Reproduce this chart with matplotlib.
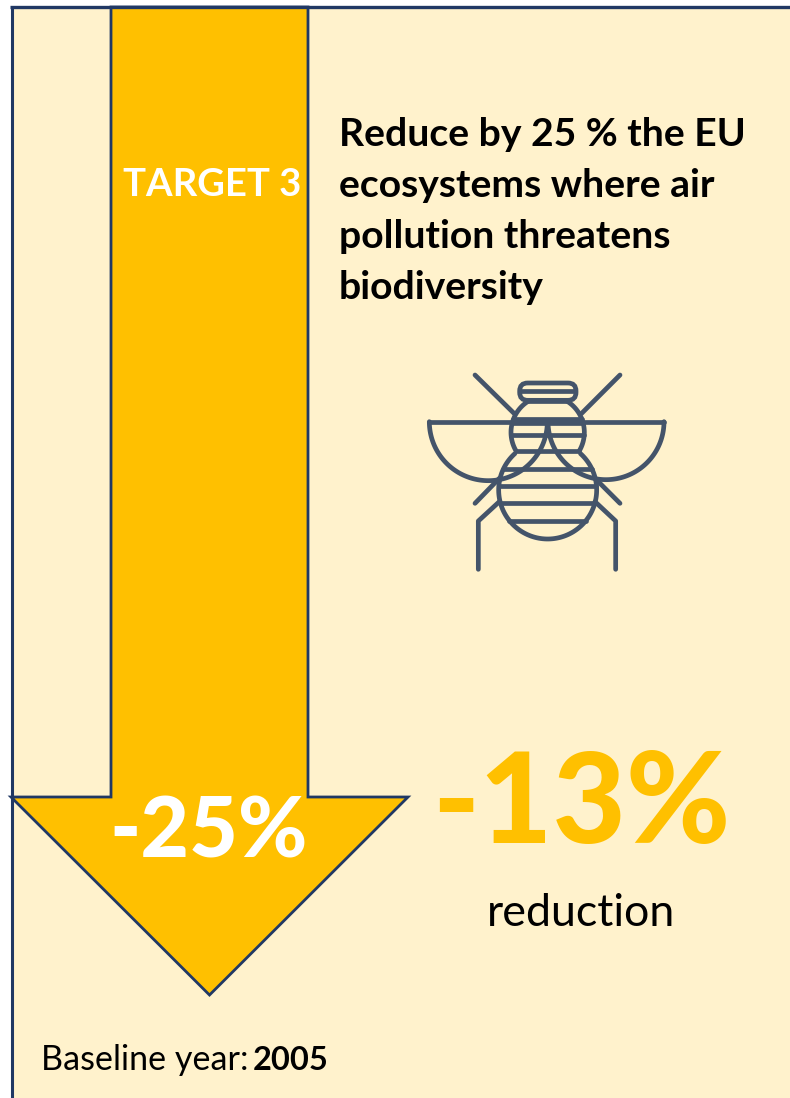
import matplotlib
matplotlib.use("Agg")
import matplotlib.pyplot as plt
import numpy as np
from matplotlib.patches import FancyBboxPatch, Polygon, Rectangle

plt.rcParams["font.family"] = ["Lato", "DejaVu Sans"]

# values and labels
target_label = "TARGET 3"
target_value = "-25%"
achieved_value = "-13%"
achieved_label = "reduction"
title_lines = ["Reduce by 25 % the EU", "ecosystems where air", "pollution threatens", "biodiversity"]
baseline_label = "Baseline year:"
baseline_year = "2005"

AMBER = "#FFC000"
CREAM = "#FFF2CC"
NAVY = "#203864"
SLATE = "#44546A"

fig = plt.figure(figsize=(7.9, 10.98), dpi=100)
ax = fig.add_axes([0, 0, 1, 1])
ax.set(xlim=(0, 790), ylim=(1098, 0))
ax.axis("off")

# panel
ax.add_patch(Rectangle((12, 7), 778, 1091, fc=CREAM, ec="none"))
ax.plot([11.5, 11.5], [1098, 7], color=NAVY, lw=2.2, solid_capstyle="butt")

# arrow
arrow = [(111, 7), (308, 7), (308, 797), (408, 797), (209.5, 995), (11, 797), (111, 797)]
ax.add_patch(Polygon(arrow, closed=True, fc=AMBER, ec=NAVY, lw=2, joinstyle="miter"))
ax.plot([10, 790], [7, 7], color=NAVY, lw=2.4, solid_capstyle="butt")


# bee icon, drawn in zoomed-crop units
def bx(x):
    return 410 + np.asarray(x, dtype=float) / 3


def by(y):
    return 360 + np.asarray(y, dtype=float) / 3


def stroke(xs, ys):
    ax.plot(bx(xs), by(ys), color=SLATE, lw=3.4, solid_capstyle="round", solid_joinstyle="round")


def arc(cx, cy, r, a1, a2):
    t = np.radians(np.linspace(a1, a2, 120))
    stroke(cx + r * np.cos(t), cy + r * np.sin(t))


def chord(cx, cy, r, y):
    half = np.sqrt(r**2 - (y - cy) ** 2)
    stroke([cx - half, cx + half], [y, y])


# thorax
arc(413, 217, 110, -60, 30)
arc(413, 217, 110, 150, 240)
for y in [178, 188, 225]:
    chord(413, 217, 110, y)
stroke([318, 508], [272, 272])

# abdomen
arc(413, 390, 147, -48, 228)
for y in [328, 377, 430, 482]:
    chord(413, 390, 147, y)

# head
ax.add_patch(
    FancyBboxPatch(
        (bx(329), by(69)), 169 / 3, 52 / 3, boxstyle="round,pad=0,rounding_size=8",
        fc="none", ec=SLATE, lw=3.4,
    )
)
stroke([332, 495], [92, 92])
stroke([350, 475], [122, 122])

# wings
stroke([57, 762], [185, 185])
arc(235, 185, 177, 0, 180)
arc(588, 185, 174, 0, 180)

# antennae and legs
stroke([195, 312], [45, 160])
stroke([630, 515], [45, 160])
stroke([195, 268], [430, 355])
stroke([630, 560], [430, 360])
stroke([268, 205, 205], [425, 483, 628])
stroke([555, 617, 617], [425, 483, 628])

# text
ax.text(212.5, 185, target_label, color="white", fontsize=27.5, fontweight="bold", ha="center", va="center")
ax.text(209, 833, target_value, color="white", fontsize=60.5, fontweight="black", ha="center", va="center")
ax.text(581, 806, achieved_value, color=AMBER, fontsize=91, fontweight="black", ha="center", va="center")
ax.text(581, 914, achieved_label, color="black", fontsize=32.2, ha="center", va="center")
for i, line in enumerate(title_lines):
    ax.text(339, 146 + 51 * i, line, color="black", fontsize=28.2, fontweight="bold", ha="left", va="baseline")
ax.text(41, 1070, baseline_label, color="black", fontsize=24.6, ha="left", va="baseline")
ax.text(253, 1070, baseline_year, color="black", fontsize=23.5, fontweight="bold", ha="left", va="baseline")

fig.savefig("out.png", dpi=100)
